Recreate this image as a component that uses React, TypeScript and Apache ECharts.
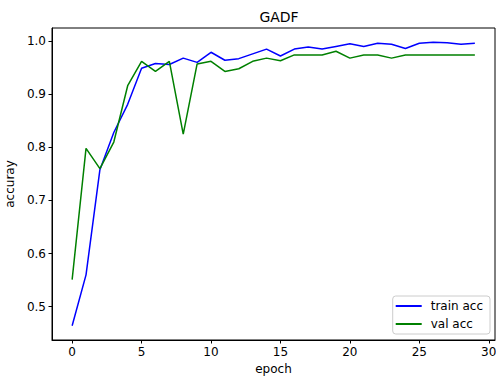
import React, { useEffect, useRef } from "react";
import * as echarts from "echarts";

const epochs = Array.from({ length: 30 }, (_, i) => i);
const trainAcc = [
  0.464, 0.56, 0.758, 0.828, 0.881, 0.949, 0.958, 0.956, 0.968, 0.96,
  0.979, 0.964, 0.967, 0.976, 0.985, 0.972, 0.985, 0.989, 0.985, 0.99,
  0.995, 0.99, 0.996, 0.994, 0.986, 0.996, 0.998, 0.997, 0.994, 0.996,
];
const valAcc = [
  0.551, 0.798, 0.76, 0.81, 0.916, 0.962, 0.943, 0.962, 0.825, 0.957,
  0.962, 0.943, 0.948, 0.962, 0.968, 0.963, 0.974, 0.974, 0.974, 0.981,
  0.968, 0.974, 0.974, 0.968, 0.974, 0.974, 0.974, 0.974, 0.974, 0.974,
];
const seriesNames = ["train acc", "val acc"];
const title = "GADF";
const xName = "epoch";
const yName = "accuray";

const FONT = "DejaVu Sans";

export default function App() {
  const ref = useRef<HTMLDivElement>(null);
  useEffect(() => {
    if (!ref.current) return;
    const chart = echarts.init(ref.current, undefined, { renderer: "svg" });
    const allVals = [...trainAcc, ...valAcc];
    const yMin0 = Math.min(...allVals);
    const yMax0 = Math.max(...allVals);
    const yPad = (yMax0 - yMin0) * 0.05;
    const xPad = (epochs[epochs.length - 1] - epochs[0]) * 0.05;
    const isTick = (v: number, step: number) =>
      Math.abs(v / step - Math.round(v / step)) < 1e-6;
    chart.setOption({
      animation: false,
      backgroundColor: "#fff",
      title: {
        text: title,
        left: 274,
        top: 5,
        textAlign: "center",
        textStyle: { fontFamily: FONT, fontSize: 14, fontWeight: "normal", color: "#000" },
      },
      grid: {
        left: 52,
        right: 1,
        top: 28,
        bottom: 38,
        containLabel: false,
        outerBoundsMode: "none",
        show: true,
        borderColor: "#000",
        borderWidth: 1,
        backgroundColor: "transparent",
      },
      legend: {
        data: seriesNames,
        orient: "vertical",
        right: 6,
        bottom: 44,
        icon: "rect",
        itemWidth: 26,
        itemHeight: 2,
        itemGap: 4,
        padding: [3, 7, 3, 3],
        backgroundColor: "#fff",
        borderColor: "#ccc",
        borderWidth: 1,
        borderRadius: 3,
        textStyle: {
          fontFamily: FONT,
          fontSize: 12,
          color: "#000",
          lineHeight: 14,
          padding: [0, 0, 0, 4],
        },
      },
      xAxis: {
        type: "value",
        min: epochs[0] - xPad,
        max: epochs[epochs.length - 1] + xPad,
        splitNumber: 6,
        name: xName,
        nameLocation: "middle",
        nameGap: 23,
        nameTextStyle: { fontFamily: FONT, fontSize: 12, color: "#000" },
        axisLine: { show: true, onZero: false, lineStyle: { color: "#000", width: 1 } },
        axisTick: { show: true, length: 3.5, lineStyle: { color: "#000" } },
        axisLabel: {
          fontFamily: FONT,
          fontSize: 12,
          color: "#000",
          margin: 6,
          showMinLabel: false,
          showMaxLabel: false,
          formatter: (v: number) => (isTick(v, 5) ? String(Math.round(v)) : ""),
        },
        splitLine: { show: false },
      },
      yAxis: {
        type: "value",
        min: yMin0 - yPad,
        max: yMax0 + yPad,
        splitNumber: 5,
        name: yName,
        nameLocation: "middle",
        nameGap: 29,
        nameTextStyle: { fontFamily: FONT, fontSize: 12, color: "#000" },
        axisLine: { show: true, onZero: false, lineStyle: { color: "#000", width: 1 } },
        axisTick: { show: true, length: 3.5, lineStyle: { color: "#000" } },
        axisLabel: {
          fontFamily: FONT,
          fontSize: 12,
          color: "#000",
          margin: 6,
          showMinLabel: false,
          showMaxLabel: false,
          formatter: (v: number) => (isTick(v, 0.1) ? v.toFixed(1) : ""),
        },
        splitLine: { show: false },
      },
      series: [
        {
          name: seriesNames[0],
          type: "line",
          data: epochs.map((e, i) => [e, trainAcc[i]]),
          symbol: "none",
          lineStyle: { color: "#0000ff", width: 1.5 },
          itemStyle: { color: "#0000ff" },
        },
        {
          name: seriesNames[1],
          type: "line",
          data: epochs.map((e, i) => [e, valAcc[i]]),
          symbol: "none",
          lineStyle: { color: "#008000", width: 1.5 },
          itemStyle: { color: "#008000" },
        },
      ],
    });
    return () => chart.dispose();
  }, []);
  return (
    <div
      ref={ref}
      style={{ position: "fixed", left: 0, top: 0, width: 496, height: 378 }}
    />
  );
}
